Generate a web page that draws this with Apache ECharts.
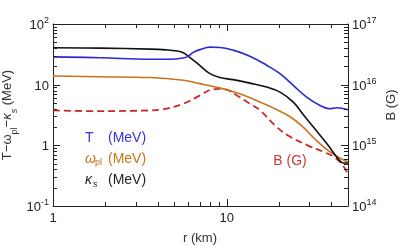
<!DOCTYPE html>
<html><head><meta charset="utf-8">
<script src="https://cdn.jsdelivr.net/npm/echarts@6/dist/echarts.min.js"></script>
<style>html,body{margin:0;padding:0;background:#fff}#c{width:399px;height:246px}</style>
</head><body><div id="c"></div>
<script>
// r (km) sample positions and values for each curve
const rT = [1, 1.87, 3.62, 4.72, 5.63, 6.0, 6.42, 7.02, 8.01, 9.15, 10.9, 13.6, 17.0, 20.3, 24.2, 28.9, 34.5, 39.3, 43.0, 50];
const T  = [28.7, 27.8, 26.3, 26.3, 27.6, 29.3, 34.0, 37.8, 41.5, 41.1, 37.1, 29.5, 20.9, 15.2, 9.75, 6.24, 4.54, 4.0, 4.16, 3.85];

const rW = [1, 1.87, 3.62, 5.63, 7.02, 9.15, 11.9, 15.6, 19.0, 22.6, 27.0, 32.2, 38.5, 45.9, 50];
const W  = [13.9, 13.5, 13.1, 11.8, 10.4, 8.79, 7.10, 5.15, 4.0, 3.1, 2.12, 1.27, 0.815, 0.594, 0.536];

const rK = [1, 1.87, 3.62, 4.5, 5.2, 5.63, 6.0, 6.42, 7.02, 8.01, 9.15, 10.9, 13.6, 17.0, 20.3, 24.2, 27.6, 32.2, 38.5, 44.0, 46.9, 50];
const K  = [40.5, 40.0, 38.5, 37.4, 35.8, 33.6, 29.6, 25.5, 20.6, 15.2, 13.1, 12.1, 10.6, 9.14, 7.55, 5.15, 3.22, 1.87, 0.99, 0.594, 0.51, 0.51];

const rB = [1, 1.87, 3.62, 4.13, 5.63, 7.02, 8.37, 9.55, 11.4, 13.6, 15.6, 19.0, 22.6, 29.5, 36.8, 42.0, 46.9, 50];
const B  = [3.76e15, 3.66e15, 3.76e15, 3.85e15, 4.85e15, 6.66e15, 8.4e15, 8.5e15, 6.7e15, 4.85e15, 3.76e15, 2.12e15, 1.45e15, 0.99e15, 0.764e15, 0.63e15, 0.46e15, 0.335e15];

// tick values
const xMajorTicks = [1, 10];
const xMinorTicks = [2, 3, 4, 5, 6, 7, 8, 9, 20, 30, 40];
const yMajorTicks = [0.1, 1, 10, 100];
const yMinorTicks = [0.2,0.3,0.4,0.5,0.6,0.7,0.8,0.9,2,3,4,5,6,7,8,9,20,30,40,50,60,70,80,90];
const bMajorTicks = [1e14, 1e15, 1e16, 1e17];
const bMinorTicks = [2e14,3e14,4e14,5e14,6e14,7e14,8e14,9e14,2e15,3e15,4e15,5e15,6e15,7e15,8e15,9e15,2e16,3e16,4e16,5e16,6e16,7e16,8e16,9e16];

const FONT = 'Liberation Sans, Arial, sans-serif';
const AX = '#222';
const pairs = (xs, ys) => xs.map((x, i) => [x, ys[i]]);

const supRich = {
  b: {fontSize: 13, fontFamily: FONT, color: AX, lineHeight: 16, verticalAlign: 'bottom'},
  s: {fontSize: 9, fontFamily: FONT, color: AX, lineHeight: 9, verticalAlign: 'top'}
};
function decadeLabel(v) {
  const e = Math.round(Math.log10(v));
  if (Math.abs(Math.log10(v) - e) > 1e-6) return '';
  if (e === 0) return '{b|1}';
  if (e === 1) return '{b|10}';
  return '{b|10}{s|' + e + '}';
}
function decadeLabelB(v) {
  const e = Math.round(Math.log10(v));
  if (Math.abs(Math.log10(v) - e) > 1e-6) return '';
  return '{b|10}{s|' + e + '}';
}
function xLabel(v) {
  const e = Math.log10(v);
  return Math.abs(e - Math.round(e)) < 1e-6 ? String(Math.round(v)) : '';
}
const lineStyleAx = {color: AX, width: 1};

const textGraphics = [
  {type: 'text', x: 10, y: 115, rotation: Math.PI / 2, style: {
    text: '{n|T−}{g|ω}{sub|pl}{n|−}{gi|κ}{subi|s}{n| (MeV)}', align: 'center', verticalAlign: 'middle',
    rich: {
      n: {fontSize: 13, fontFamily: FONT, fill: '#333', lineHeight: 18, verticalAlign: 'top'},
      g: {fontSize: 13, fontFamily: FONT, fill: '#333', lineHeight: 18, verticalAlign: 'top'},
      gi: {fontSize: 13, fontFamily: FONT, fontStyle: 'italic', fill: '#333', lineHeight: 18, verticalAlign: 'top'},
      sub: {fontSize: 9, fontFamily: FONT, fill: '#333', lineHeight: 10, verticalAlign: 'bottom'},
      subi: {fontSize: 9, fontFamily: FONT, fontStyle: 'italic', fill: '#333', lineHeight: 10, verticalAlign: 'bottom'}
    }}},
  {type: 'text', x: 391, y: 105, rotation: Math.PI / 2, style: {
    text: 'B (G)', align: 'center', verticalAlign: 'middle', font: '13px ' + FONT, fill: '#333'}},
  {type: 'text', x: 200, y: 238, style: {
    text: 'r (km)', align: 'center', verticalAlign: 'middle', font: '13px ' + FONT, fill: '#333'}},
  {type: 'text', x: 85, y: 138, style: {text: 'T', align: 'left', verticalAlign: 'middle', font: '14px ' + FONT, fill: '#3434d8'}},
  {type: 'text', x: 108, y: 138, style: {text: '(MeV)', align: 'left', verticalAlign: 'middle', font: '14px ' + FONT, fill: '#3434d8'}},
  {type: 'text', x: 85, y: 159, style: {text: 'ω', align: 'left', verticalAlign: 'middle', font: 'italic 14px ' + FONT, fill: '#c8741c'}},
  {type: 'text', x: 95, y: 163, style: {text: 'pl', align: 'left', verticalAlign: 'middle', font: '9px ' + FONT, fill: '#c8741c'}},
  {type: 'text', x: 108, y: 159, style: {text: '(MeV)', align: 'left', verticalAlign: 'middle', font: '14px ' + FONT, fill: '#c8741c'}},
  {type: 'text', x: 85, y: 180, style: {text: 'κ', align: 'left', verticalAlign: 'middle', font: 'italic 14px ' + FONT, fill: '#222'}},
  {type: 'text', x: 93, y: 184, style: {text: 's', align: 'left', verticalAlign: 'middle', font: 'italic 9px ' + FONT, fill: '#222'}},
  {type: 'text', x: 108, y: 180, style: {text: '(MeV)', align: 'left', verticalAlign: 'middle', font: '14px ' + FONT, fill: '#222'}},
  {type: 'text', x: 290, y: 161, style: {text: 'B (G)', align: 'center', verticalAlign: 'middle', font: '14px ' + FONT, fill: '#d03838'}}
];

const chart = echarts.init(document.getElementById('c'), null, {renderer: 'canvas'});
chart.setOption({
  animation: false,
  backgroundColor: '#fff',
  grid: {left: 53, right: 51, top: 24, bottom: 40, containLabel: false},
  xAxis: [
    {type: 'log', logBase: 10, min: 1, max: 50, position: 'bottom',
     axisLine: {show: true, onZero: false, lineStyle: lineStyleAx}, axisTick: {show: false},
     axisLabel: {show: true, margin: 6, fontSize: 13, fontFamily: FONT, color: AX, formatter: xLabel, showMaxLabel: false},
     splitLine: {show: false}},
    {type: 'log', logBase: 10, min: 1, max: 50, position: 'top',
     axisLine: {show: true, onZero: false, lineStyle: lineStyleAx}, axisTick: {show: false},
     axisLabel: {show: false}, splitLine: {show: false}}
  ],
  yAxis: [
    {type: 'log', logBase: 10, min: 0.1, max: 100, position: 'left',
     axisLine: {show: true, onZero: false, lineStyle: lineStyleAx}, axisTick: {show: false},
     axisLabel: {show: true, margin: 4, formatter: decadeLabel, rich: supRich}, splitLine: {show: false}},
    {type: 'log', logBase: 10, min: 1e14, max: 1e17, position: 'right',
     axisLine: {show: true, onZero: false, lineStyle: lineStyleAx}, axisTick: {show: false},
     axisLabel: {show: true, margin: 4, formatter: decadeLabelB, rich: supRich}, splitLine: {show: false}}
  ],
  series: [
    {name: 'B', type: 'line', xAxisIndex: 0, yAxisIndex: 1, data: pairs(rB, B), showSymbol: false,
     smooth: 0.4, lineStyle: {color: '#cc2a2a', width: 1.8, type: [7, 4]}},
    {name: 'omega', type: 'line', xAxisIndex: 0, yAxisIndex: 0, data: pairs(rW, W), showSymbol: false,
     smooth: 0.4, lineStyle: {color: '#c8741c', width: 1.6}},
    {name: 'kappa', type: 'line', xAxisIndex: 0, yAxisIndex: 0, data: pairs(rK, K), showSymbol: false,
     smooth: 0.4, lineStyle: {color: '#111111', width: 1.6}},
    {name: 'T', type: 'line', xAxisIndex: 0, yAxisIndex: 0, data: pairs(rT, T), showSymbol: false,
     smooth: 0.4, lineStyle: {color: '#2a2ad0', width: 1.6}}
  ]
});

// Pixel positions through the chart's own axes (series 1 uses y axis 0, series 0 uses y axis 1)
let dbg = [];
function inside(p) { return p && isFinite(p[0]) && isFinite(p[1]) && p[0] >= 40 && p[0] <= 360 && p[1] >= 15 && p[1] <= 215; }
function conv(seriesIndex, x, y) {
  let p = null;
  try { p = chart.convertToPixel({seriesIndex: seriesIndex}, [x, y]); } catch (e) { dbg.push('E1:' + e.message); }
  if (inside(p)) return p;
  let q = null;
  try { q = chart.convertToPixel({seriesIndex: seriesIndex}, [Math.log10(x), Math.log10(y)]); } catch (e) { dbg.push('E2:' + e.message); }
  if (inside(q)) return q;
  // fallback: axis objects
  try {
    const model = chart.getModel();
    const xa = model.getComponent('xAxis', 0).axis;
    const ya = model.getComponent('yAxis', seriesIndex === 0 ? 1 : 0).axis;
    const r = [xa.toGlobalCoord(xa.dataToCoord(x)), ya.toGlobalCoord(ya.dataToCoord(y))];
    if (inside(r)) return r;
    dbg.push('R:' + JSON.stringify(p) + JSON.stringify(q) + JSON.stringify(r));
  } catch (e) { dbg.push('E3:' + e.message); }
  return null;
}

const ticks = [];
function tk(x1, y1, x2, y2) {
  ticks.push({type: 'line', silent: true, z: 100, shape: {x1: x1, y1: y1, x2: x2, y2: y2},
              style: {stroke: AX, lineWidth: 1, fill: null}});
}
function xTicks(vals, len) {
  vals.forEach(v => {
    const b = conv(1, v, 0.1);
    const t = conv(1, v, 100);
    if (!b || !t) return;
    const x = Math.round(b[0]) + 0.5;
    tk(x, b[1], x, b[1] - len);
    tk(x, t[1], x, t[1] + len);
  });
}
function yTicks(vals, sIdx, len, side) {
  vals.forEach(v => {
    const p = conv(sIdx, side === 'left' ? 1 : 50, v);
    if (!p) return;
    const y = Math.round(p[1]) + 0.5;
    tk(p[0], y, side === 'left' ? p[0] + len : p[0] - len, y);
  });
}
xTicks(xMajorTicks, 7);
xTicks(xMinorTicks, 4);
yTicks(yMajorTicks, 1, 7, 'left');
yTicks(yMinorTicks, 1, 4, 'left');
yTicks(bMajorTicks, 0, 7, 'right');
yTicks(bMinorTicks, 0, 4, 'right');

const extra = [];
if (dbg.length || ticks.length === 0) {
  extra.push({type: 'text', x: 2, y: 2, style: {text: (ticks.length + ' ' + dbg.slice(0, 2).join(' | ')).slice(0, 90), font: '8px sans-serif', fill: '#f00'}});
}
chart.setOption({graphic: textGraphics.concat(ticks, extra)});
</script></body></html>
